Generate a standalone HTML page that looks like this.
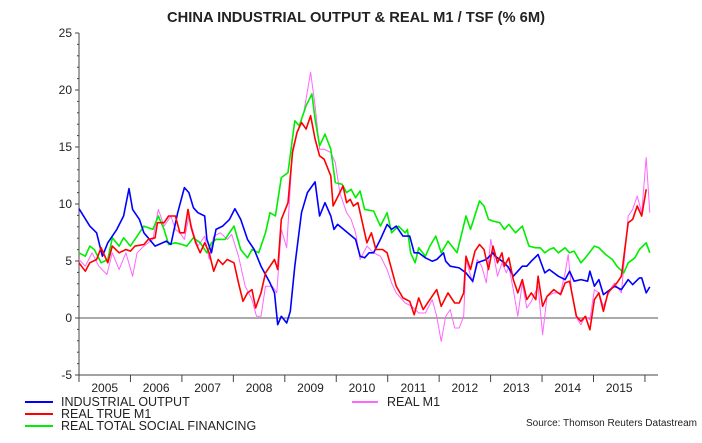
<!DOCTYPE html>
<html><head><meta charset="utf-8"><style>
html,body{margin:0;padding:0;background:#fff;}
svg text{font-family:"Liberation Sans",Arial,sans-serif;fill:#222;}
</style></head><body>
<svg id="c" width="702" height="438" viewBox="0 0 702 438" xmlns="http://www.w3.org/2000/svg">
<text x="356" y="22" text-anchor="middle" font-size="14.6" font-weight="bold" textLength="378" lengthAdjust="spacingAndGlyphs">CHINA INDUSTRIAL OUTPUT &amp; REAL M1 / TSF (% 6M)</text>
<g id="axes" stroke="#444" stroke-width="1" fill="none"></g>
<g id="labels" font-size="12"></g>
<g id="series" fill="none" stroke-linejoin="round"></g>
<g font-size="12.5">
<line x1="25" y1="402" x2="53" y2="402" stroke="#0000ff" stroke-width="2"/>
<text x="61" y="406">INDUSTRIAL OUTPUT</text>
<line x1="25" y1="414" x2="53" y2="414" stroke="#ff0000" stroke-width="2"/>
<text x="61" y="418">REAL TRUE M1</text>
<line x1="25" y1="426" x2="53" y2="426" stroke="#00ee00" stroke-width="2"/>
<text x="61" y="430">REAL TOTAL SOCIAL FINANCING</text>
<line x1="352" y1="402" x2="378" y2="402" stroke="#ff66ff" stroke-width="2"/>
<text x="387" y="406">REAL M1</text>
</g>
<text x="697" y="426" text-anchor="end" font-size="10" fill="#333">Source: Thomson Reuters Datastream</text>
</svg>
<script>
var NS="http://www.w3.org/2000/svg";
function el(p,t,a,txt){var e=document.createElementNS(NS,t);for(var k in a)e.setAttribute(k,a[k]);if(txt)e.textContent=txt;p.appendChild(e);return e;}
var ax=document.getElementById('axes'),lb=document.getElementById('labels'),se=document.getElementById('series');
function Y(v){return 318-v*11.4;}
el(ax,'line',{x1:79,y1:33,x2:79,y2:375});
el(ax,'line',{x1:79,y1:375,x2:658,y2:375});
el(ax,'line',{x1:79,y1:318,x2:658,y2:318,stroke:'#555'});
for(var v=-5;v<=25;v++){var y=Y(v);el(ax,'line',{x1:v%5==0?75:77,y1:y,x2:79,y2:y});}
for(var v=-5;v<=25;v+=5){el(lb,'text',{x:72,y:Y(v)+4,'text-anchor':'end'},String(v));}
for(var i=0;i<=11;i++){var x=79+i*51.45;el(ax,'line',{x1:x,y1:375,x2:x,y2:382});if(i<11)el(lb,'text',{x:x+25.7,y:392,'text-anchor':'middle'},String(2005+i));}
function P(a){var s=[];for(var i=0;i<a.length;i+=2){s.push((79+(a[i]-176)*0.4505).toFixed(1)+','+(318+(a[i+1]-955)*0.3343).toFixed(1));}return s.join(' ');}
var mag=[176,780,190,800,205,760,220,800,238,825,250,760,265,810,280,760,295,830,305,760,320,740,340,720,352,630,365,680,380,650,390,690,400,700,410,720,420,650,430,700,440,740,455,710,465,780,475,710,490,700,505,720,515,705,530,770,545,860,560,900,570,950,580,950,590,860,605,860,615,880,625,690,637,745,650,450,660,400,675,340,690,220,700,320,710,450,720,450,735,460,745,490,755,580,770,640,780,660,790,700,800,780,815,740,830,760,845,770,860,810,870,850,880,880,900,910,915,920,930,940,945,940,960,900,970,950,980,1025,990,950,1000,930,1010,985,1020,985,1030,950,1035,780,1050,850,1060,780,1070,800,1080,850,1090,720,1105,830,1115,790,1125,820,1130,800,1140,870,1150,950,1160,850,1170,925,1180,905,1195,860,1205,1005,1215,890,1230,880,1245,880,1255,820,1262,765,1270,880,1280,955,1290,975,1300,950,1310,960,1320,870,1330,880,1340,920,1355,870,1365,850,1380,880,1395,650,1405,630,1415,590,1425,640,1435,475,1443,640];
var grn=[176,760,190,770,200,740,210,750,225,790,240,780,250,715,265,740,275,715,290,740,300,720,320,680,340,690,352,650,365,690,375,735,390,730,405,735,415,740,430,715,445,730,460,760,470,730,480,720,500,720,520,680,535,750,550,775,560,750,575,760,590,700,600,640,612,650,625,535,640,520,655,365,665,380,680,320,693,285,700,360,710,440,722,405,735,450,745,550,760,555,770,580,780,570,790,595,800,575,810,630,830,635,845,680,860,640,870,700,885,680,900,700,905,690,912,760,922,790,930,745,945,770,955,740,968,710,980,760,995,725,1015,760,1035,650,1045,690,1065,605,1075,620,1085,660,1095,665,1110,670,1120,690,1130,675,1145,700,1160,680,1175,740,1190,745,1200,745,1210,760,1220,750,1230,745,1240,760,1255,745,1265,760,1275,755,1290,790,1300,775,1320,740,1330,745,1345,765,1360,780,1370,800,1385,820,1395,790,1410,775,1420,750,1435,730,1443,760];
var blu=[176,628,200,680,215,700,228,770,240,730,260,690,275,650,287,568,295,630,310,660,320,700,345,740,370,725,380,735,395,640,410,565,420,580,430,625,440,640,455,650,460,720,470,760,480,690,495,680,510,660,522,628,535,660,550,720,565,750,580,800,600,850,610,880,617,975,625,950,637,970,645,935,655,800,670,640,683,580,700,548,710,650,722,610,735,650,742,690,750,675,790,720,800,770,810,775,820,760,830,760,845,720,860,675,870,690,880,680,895,710,910,710,920,760,930,760,945,775,960,785,970,780,985,760,990,785,1000,800,1020,805,1035,820,1050,845,1060,790,1080,780,1095,760,1100,770,1120,790,1130,805,1140,830,1160,800,1170,800,1180,785,1195,765,1210,820,1220,810,1240,830,1255,840,1265,815,1275,845,1290,840,1305,845,1310,815,1320,860,1330,840,1340,885,1355,870,1365,860,1380,870,1395,840,1405,855,1420,835,1425,835,1435,880,1443,862];
var red=[176,790,190,815,200,790,215,780,225,745,240,790,250,740,265,760,280,750,290,755,300,740,320,735,330,720,345,715,350,670,365,670,375,650,390,650,400,700,410,700,418,630,425,685,435,730,445,760,455,730,465,760,475,815,485,780,495,795,505,780,520,790,530,850,540,905,550,880,560,870,568,925,580,880,590,820,610,780,617,810,625,660,640,610,650,460,660,400,670,370,680,390,690,350,700,420,710,470,720,480,735,530,740,620,755,580,762,560,770,610,778,600,785,620,795,610,805,670,815,730,825,700,835,750,850,750,860,760,880,860,895,895,910,905,920,945,930,895,940,930,955,900,970,870,980,920,995,880,1010,910,1020,910,1030,880,1035,770,1045,810,1055,755,1065,735,1075,750,1085,810,1095,740,1105,790,1115,760,1120,800,1130,775,1140,840,1150,880,1160,840,1170,900,1180,880,1190,900,1195,830,1205,920,1215,890,1230,870,1245,885,1255,850,1265,845,1280,950,1290,965,1300,950,1310,990,1320,900,1330,880,1340,935,1350,880,1370,850,1380,830,1395,670,1405,660,1415,620,1425,650,1435,570];
el(se,'polyline',{points:P(mag),stroke:'#ff66ff','stroke-width':1});
el(se,'polyline',{points:P(grn),stroke:'#00ee00','stroke-width':1.6});
el(se,'polyline',{points:P(blu),stroke:'#0000ff','stroke-width':1.6});
el(se,'polyline',{points:P(red),stroke:'#ff0000','stroke-width':1.6});
</script>
</body></html>
